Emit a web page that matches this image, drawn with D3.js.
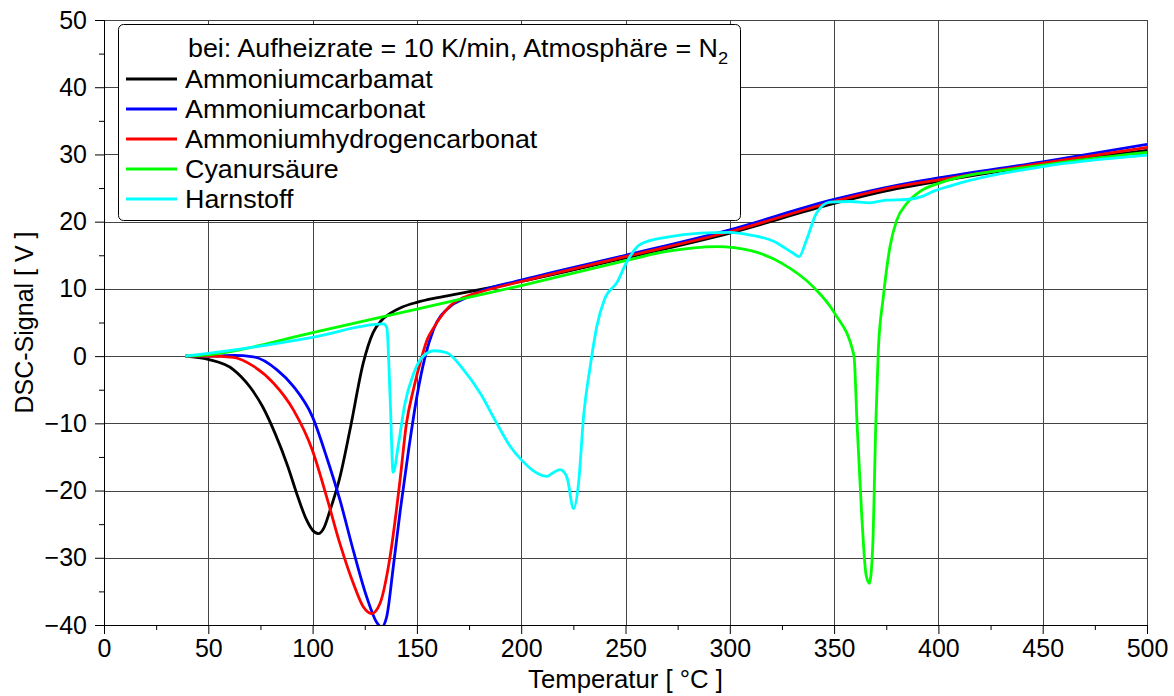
<!DOCTYPE html>
<html>
<head>
  <script src="https://d3js.org/d3.v7.min.js"></script>
  <style>
    body { margin: 0; background: #fff; }
    text { font-family: Arial, "Liberation Sans", sans-serif; fill: #000; }
  </style>
</head>
<body>
  <div id="chart_div"></div>

  <script>
    // Data: [temperature °C, signal V]
    var ammoniumcarbamat = [
      [39,0],[50,-0.5],[62,-2],[70,-4.6],[76,-7.5],[82,-11.5],[88,-16.3],[93,-21],[97,-24.3],
      [100,-25.9],[102.7,-26.4],[105.5,-25.5],[108.3,-23],[113.1,-18],[117.9,-11],[124.3,-1],
      [129,3.5],[133,5.3],[137,6.3],[143,7.3],[150,8],[160,8.7],[172,9.4],[200,11.1],[250,14.6],
      [300,18.3],[350,22.7],[380,24.9],[400,26],[450,28.5],[500,30.6]
    ];
    var ammoniumcarbonat = [
      [39,0],[50,0],[62,0.1],[71.6,-0.1],[82.8,-2],[90.8,-4.5],[99.9,-9],[106.7,-15],[113.1,-21.4],
      [119.5,-28.9],[125.9,-35.8],[130.7,-39.6],[133.1,-40.3],[135.5,-38.8],[138.7,-31.3],[142,-23],
      [146,-14],[150,-6],[154,0],[158,4],[166,7.4],[172.3,8.5],[180,9.6],[200,11.3],[250,15],
      [300,18.8],[350,23.3],[380,25.4],[400,26.5],[450,28.9],[500,31.5]
    ];
    var ammoniumhydrogencarbonat = [
      [39,0],[50,0],[62,-0.2],[71.6,-1.5],[81.2,-4],[90.8,-8],[99.9,-14],[106.7,-20.9],[113.1,-27.9],
      [119.5,-33.8],[124.3,-37.3],[128.3,-38.3],[132.3,-36.8],[137.1,-29.9],[141.9,-18.5],[145,-10],
      [148.3,-5],[152,-0.5],[155,2.5],[158,4.2],[166,7.5],[172.3,8.7],[180,9.5],[200,11.1],[250,14.8],
      [300,18.5],[350,23],[380,25.2],[400,26.2],[450,28.7],[500,31.05]
    ];
    var cyanursaeure = [
      [39,0],[50,0.2],[100,3.5],[150,7],[200,10.5],[250,14.2],[270,15.6],[294,16.3],[310,15.7],
      [325,13.8],[340,10.3],[350,6.5],[359.5,0.1],[361,-10],[363.2,-23.4],[365.3,-32.5],[366.9,-33.8],
      [368.5,-28.4],[370,-10],[371.2,0.9],[373.6,8.8],[376.8,16.3],[380,20.2],[384.8,22.7],
      [391.2,24.5],[400,25.7],[450,28.4],[500,30.3]
    ];
    var harnstoff = [
      [39,0],[50,0.4],[100,2.8],[134,4.8],[135.6,4.2],[137.2,-6.5],[138.6,-17.3],[141.2,-13],
      [144.3,-7],[148.3,-2.7],[153,0],[158.5,0.8],[164.3,0.5],[172.3,-2],[180.3,-5.5],[188.3,-10],
      [194.7,-13.4],[200,-15.4],[207.5,-17.4],[212.3,-17.9],[215.5,-17.3],[218.7,-16.9],[221.9,-18],
      [225.1,-22.7],[227.5,-18.9],[229.9,-9],[233.1,-1.5],[236.3,4.5],[240,8.5],[246,11],[250.6,14],
      [257,16.6],[270,17.7],[286,18.3],[300,18.4],[310,18],[321,17.1],[330.4,15.3],[333.2,14.8],
      [336.8,17.3],[341.6,21.3],[348,22.9],[357.6,23],[367.2,22.8],[375,23.2],[385,23.3],
      [392.7,23.8],[397.5,24.5],[405.4,25.3],[450,28.2],[500,29.9]
    ];

    var seriesNames = ["Ammoniumcarbamat", "Ammoniumcarbonat", "Ammoniumhydrogencarbonat", "Cyanursäure", "Harnstoff"];
    var seriesColors = ["#000000", "#0000ff", "#ff0000", "#00ff00", "#00ffff"];
    var seriesData = [ammoniumcarbamat, ammoniumcarbonat, ammoniumhydrogencarbonat, cyanursaeure, harnstoff];

    var xTicks = [0, 50, 100, 150, 200, 250, 300, 350, 400, 450, 500];
    var xMinor = [25, 75, 125, 175, 225, 275, 325, 375, 425, 475];
    var yTicks = [-40, -30, -20, -10, 0, 10, 20, 30, 40, 50];
    var yMinor = [-35, -25, -15, -5, 5, 15, 25, 35, 45];

    // chart dimensions
    var margin = { top: 20, right: 27, bottom: 71, left: 104 };
    var width = 1174 - margin.left - margin.right;
    var height = 696 - margin.top - margin.bottom;

    var svg = d3.select("#chart_div")
      .append("svg")
      .attr("width", 1174)
      .attr("height", 696)
      .append("g")
      .attr("transform", "translate(" + margin.left + "," + margin.top + ")");

    var x = d3.scaleLinear().domain([0, 500]).range([0, width]);
    var y = d3.scaleLinear().domain([-40, 50]).range([height, 0]);

    // grid
    svg.append("g")
      .selectAll("line")
      .data(xTicks)
      .enter()
      .append("line")
      .attr("x1", function(d) { return Math.round(x(d)) + 0.5; })
      .attr("x2", function(d) { return Math.round(x(d)) + 0.5; })
      .attr("y1", 0)
      .attr("y2", height)
      .attr("stroke", "#444")
      .attr("stroke-width", 1);

    svg.append("g")
      .selectAll("line")
      .data(yTicks)
      .enter()
      .append("line")
      .attr("y1", function(d) { return Math.round(y(d)) + 0.5; })
      .attr("y2", function(d) { return Math.round(y(d)) + 0.5; })
      .attr("x1", 0)
      .attr("x2", width)
      .attr("stroke", "#444")
      .attr("stroke-width", 1);

    // curves
    svg.append("clipPath")
      .attr("id", "clip")
      .append("rect")
      .attr("width", width)
      .attr("height", height);

    var line = d3.line()
      .x(function(d) { return x(d[0]); })
      .y(function(d) { return y(d[1]); })
      .curve(d3.curveMonotoneX);

    svg.append("g")
      .attr("clip-path", "url(#clip)")
      .selectAll("path")
      .data(seriesData)
      .enter()
      .append("path")
      .attr("d", line)
      .attr("fill", "none")
      .attr("stroke", function(d, i) { return seriesColors[i]; })
      .attr("stroke-width", 2.8)
      .attr("stroke-linejoin", "round");

    // axes
    svg.append("g")
      .attr("transform", "translate(0," + height + ")")
      .call(d3.axisBottom(x).tickValues(xTicks).tickSize(9).tickSizeOuter(0).tickPadding(5));
    svg.append("g")
      .attr("transform", "translate(0," + height + ")")
      .call(d3.axisBottom(x).tickValues(xMinor).tickSize(5).tickSizeOuter(0).tickFormat(""));

    svg.append("g")
      .call(d3.axisLeft(y).tickValues(yTicks).tickSize(9).tickSizeOuter(0).tickPadding(8));
    svg.append("g")
      .call(d3.axisLeft(y).tickValues(yMinor).tickSize(5).tickSizeOuter(0).tickFormat(""));

    svg.selectAll(".tick line, .domain").attr("stroke", "#000");
    svg.selectAll(".tick text").style("font-size", "25px").attr("fill", "#000");

    // axis labels
    svg.append("text")
      .attr("transform", "translate(" + (width / 2) + "," + (height + 63) + ") scale(1.03,1)")
      .style("text-anchor", "middle")
      .style("font-size", "25px")
      .text("Temperatur [ °C ]");

    svg.append("text")
      .attr("transform", "translate(" + (33 - margin.left) + "," + (height / 2) + ") rotate(-90)")
      .style("text-anchor", "middle")
      .style("font-size", "25px")
      .text("DSC-Signal [ V ]");

    // legend
    var legend = svg.append("g")
      .attr("transform", "translate(" + (118 - margin.left) + "," + (24 - margin.top) + ")");

    legend.append("rect")
      .attr("x", 0.5)
      .attr("y", 0.5)
      .attr("width", 622)
      .attr("height", 196)
      .attr("rx", 5)
      .attr("fill", "#fff")
      .attr("stroke", "#000")
      .attr("stroke-width", 1);

    // legend text is a bit wider than plain Arial in the original
    var title = legend.append("text")
      .attr("transform", "translate(70,33) scale(1.075,1)")
      .style("font-size", "25px")
      .text("bei: Aufheizrate = 10 K/min, Atmosphäre = N");
    title.append("tspan")
      .attr("dy", 7)
      .style("font-size", "17px")
      .text("2");

    var items = legend.selectAll(".item")
      .data(seriesNames)
      .enter()
      .append("g")
      .attr("class", "item")
      .attr("transform", function(d, i) { return "translate(0," + (55 + i * 30) + ")"; });

    items.append("line")
      .attr("x1", 8)
      .attr("x2", 59)
      .attr("y1", 0)
      .attr("y2", 0)
      .attr("stroke", function(d, i) { return seriesColors[i]; })
      .attr("stroke-width", 3);

    items.append("text")
      .attr("transform", "translate(67,9) scale(1.075,1)")
      .style("font-size", "25px")
      .text(function(d) { return d; });
  </script>
</body>
</html>
